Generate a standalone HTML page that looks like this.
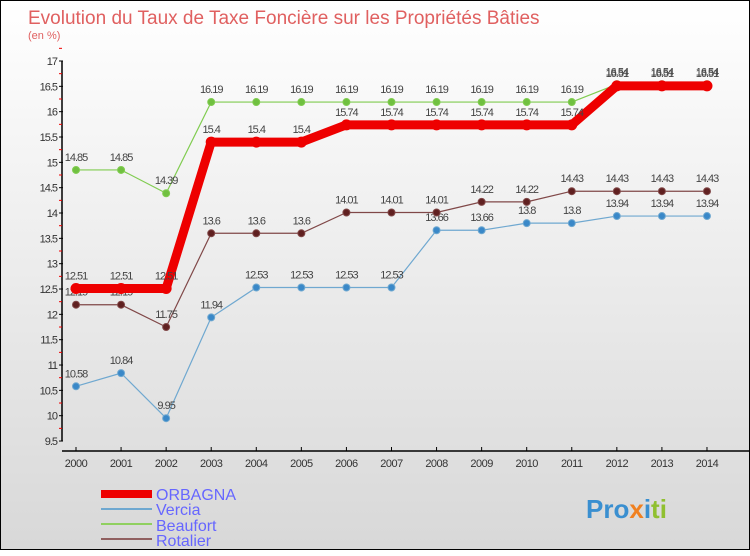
<!DOCTYPE html>
<html><head><meta charset="utf-8"><style>
body{margin:0;width:750px;height:550px;overflow:hidden;font-family:"Liberation Sans",sans-serif}
#f{position:absolute;left:0;top:0;width:748px;height:548px;border:1px solid #000;background:linear-gradient(#fff,#d8d8d8)}
</style></head><body>
<div id="f">
<svg width="750" height="550" xmlns="http://www.w3.org/2000/svg" id="svg">
<text x="27" y="23" font-size="19" fill="#e06060">Evolution du Taux de Taxe Foncière sur les Propriétés Bâties</text>
<text x="27" y="38" font-size="11" fill="#e06060">(en %)</text>
<g id="axes"></g><g id="series"></g>
<g>
<rect x="100" y="489" width="51" height="8" fill="#e00"/>
<text x="155" y="499" font-size="16" fill="#66f">ORBAGNA</text>
<rect x="100" y="507" width="51" height="2" fill="#6fa8d0"/>
<text x="155" y="514" font-size="16" fill="#66f">Vercia</text>
<rect x="100" y="522" width="51" height="2" fill="#90d060"/>
<text x="155" y="530" font-size="16" fill="#66f">Beaufort</text>
<rect x="100" y="537" width="51" height="2" fill="#906060"/>
<text x="155" y="545" font-size="16" fill="#66f">Rotalier</text>
</g>
<g font-size="26" font-weight="bold">
<text x="585" y="517"><tspan fill="#3a8fd0">Pro</tspan><tspan fill="#f08020">x</tspan><tspan fill="#3a8fd0">i</tspan><tspan fill="#90c030">ti</tspan></text>
</g>
</svg></div>
<script>
const years=[2000,2001,2002,2003,2004,2005,2006,2007,2008,2009,2010,2011,2012,2013,2014];
const yTicks=[9.5,10,10.5,11,11.5,12,12.5,13,13.5,14,14.5,15,15.5,16,16.5,17];
const orbagna=[12.51,12.51,12.51,15.4,15.4,15.4,15.74,15.74,15.74,15.74,15.74,15.74,16.51,16.51,16.51];
const vercia=[10.58,10.84,9.95,11.94,12.53,12.53,12.53,12.53,13.66,13.66,13.8,13.8,13.94,13.94,13.94];
const beaufort=[14.85,14.85,14.39,16.19,16.19,16.19,16.19,16.19,16.19,16.19,16.19,16.19,16.54,16.54,16.54];
const rotalier=[12.19,12.19,11.75,13.6,13.6,13.6,14.01,14.01,14.01,14.22,14.22,14.43,14.43,14.43,14.43];
const NS="http://www.w3.org/2000/svg";
const xS=i=>75+i*45.07;
const yS=v=>60+(17-v)*50.67;
function mk(tag,attrs,parent,txt){const e=document.createElementNS(NS,tag);for(const k in attrs)e.setAttribute(k,attrs[k]);if(txt!==undefined)e.textContent=txt;parent.appendChild(e);return e;}
const ax=document.getElementById('axes');
let yl=mk('line',{x1:61,y1:yS(17),x2:61,y2:yS(9.5),stroke:'#000','stroke-width':1.5},ax);


yTicks.forEach(t=>{
 mk('line',{x1:58,x2:62,y1:yS(t),y2:yS(t),stroke:'#000'},ax);
 mk('line',{x1:58,x2:61,y1:yS(t+0.25),y2:yS(t+0.25),stroke:'#e00'},ax);
 const tx=mk('text',{x:56,y:yS(t)+4,'font-size':11,'text-anchor':'end',fill:'#333','letter-spacing':-1},ax,String(t));
 
 
});
let xl=mk('line',{x1:61,y1:450,x2:750,y2:450,stroke:'#000','stroke-width':1.5},ax);


years.forEach((y,i)=>{
 mk('line',{x1:xS(i),x2:xS(i),y1:446,y2:450,stroke:'#000'},ax);
 const tx=mk('text',{x:xS(i),y:466,'font-size':11,'text-anchor':'middle',fill:'#333','letter-spacing':-0.5},ax,String(y));
 
 
});
const sg=document.getElementById('series');
function draw(name,vals,color,w,r,dotFill){
 const g=mk('g',{},sg);
 
 
 const pl=mk('polyline',{points:vals.map((v,i)=>xS(i)+','+yS(v)).join(' '),fill:'none',stroke:color,'stroke-width':w,'stroke-linejoin':'round'},g);
 
 
 vals.forEach((v,i)=>{
  const c=mk('circle',{cx:xS(i),cy:yS(v),r:r,fill:dotFill,stroke:color,'stroke-width':1},g);
  
  
  const t=mk('text',{x:xS(i),y:yS(v)-9,'font-size':11,'text-anchor':'middle',fill:'#444','letter-spacing':-1},g,String(v));
  
  
 });
}
draw('beaufort',beaufort,'#80cc50',1.2,3.5,'#70c040');
draw('vercia',vercia,'#6fa8d0',1.2,3.5,'#3a88c8');
draw('rotalier',rotalier,'#804848',1.2,3.5,'#602020');
draw('orbagna',orbagna,'#ee0000',9,5,'#ee0000');
</script>
</body></html>
